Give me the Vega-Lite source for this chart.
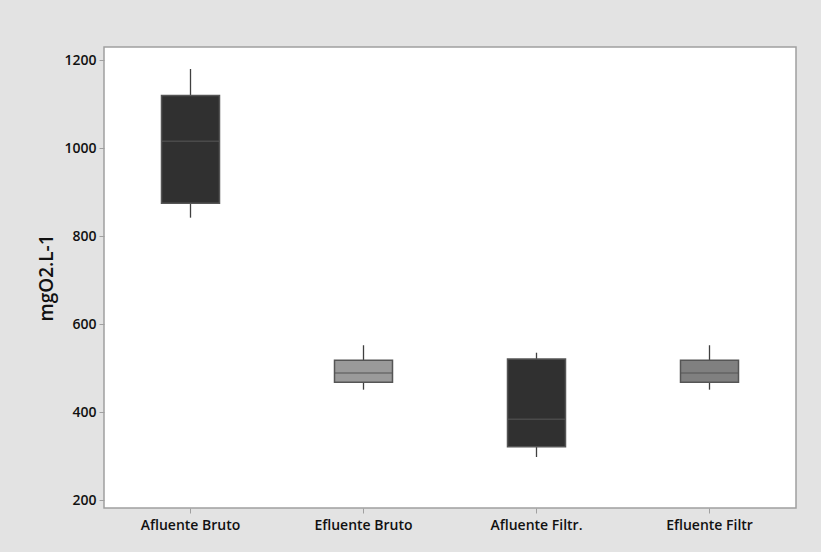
{
  "$schema": "https://vega.github.io/schema/vega-lite/v6.json",
  "autosize": "none",
  "width": 692,
  "height": 461,
  "padding": {"left": 104, "top": 47, "right": 25, "bottom": 44},
  "background": "#e3e3e3",
  "config": {
    "view": {"fill": "#ffffff", "stroke": "#a0a0a0", "strokeWidth": 1.5},
    "font": "Open Sans",
    "axis": {
      "domain": false,
      "grid": false,
      "tickColor": "#a0a0a0",
      "tickSize": 5,
      "labelFont": "Open Sans",
      "labelFontSize": 14,
      "labelFontWeight": 600,
      "labelColor": "#111111",
      "titleFont": "Open Sans",
      "titleColor": "#111111"
    }
  },
  "data": {
    "values": [
      {"grupo": "Afluente Bruto", "min": 842, "q1": 875, "mediana": 1016, "q3": 1120, "max": 1180, "cor": "#303030"},
      {"grupo": "Efluente Bruto", "min": 451, "q1": 468, "mediana": 489, "q3": 518, "max": 552, "cor": "#9a9a9a"},
      {"grupo": "Afluente Filtr.", "min": 298, "q1": 321, "mediana": 384, "q3": 521, "max": 535, "cor": "#303030"},
      {"grupo": "Efluente Filtr", "min": 451, "q1": 468, "mediana": 489, "q3": 518, "max": 552, "cor": "#808080"}
    ]
  },
  "encoding": {
    "x": {
      "field": "grupo",
      "type": "nominal",
      "sort": null,
      "scale": {"paddingInner": 0, "paddingOuter": 0},
      "axis": {"title": null, "labelAngle": 0, "labelPadding": 5}
    }
  },
  "layer": [
    {
      "mark": {"type": "rule", "color": "#404040", "strokeWidth": 1.3},
      "encoding": {
        "y": {
          "field": "min",
          "type": "quantitative",
          "scale": {"domain": [182, 1230], "nice": false, "zero": false},
          "axis": {
            "values": [200, 400, 600, 800, 1000, 1200],
            "format": "d",
            "title": "mgO2.L-1",
            "titleFontSize": 19,
            "titleFontWeight": 600,
            "titlePadding": 7,
            "labelPadding": 3
          }
        },
        "y2": {"field": "max"}
      }
    },
    {
      "mark": {"type": "bar", "size": 58, "stroke": "#555555", "strokeWidth": 1.5},
      "encoding": {
        "y": {"field": "q1", "type": "quantitative"},
        "y2": {"field": "q3"},
        "fill": {"field": "cor", "type": "nominal", "scale": null}
      }
    },
    {
      "mark": {"type": "tick", "size": 58, "thickness": 1.5, "color": "#555555"},
      "encoding": {
        "y": {"field": "mediana", "type": "quantitative"}
      }
    }
  ]
}
